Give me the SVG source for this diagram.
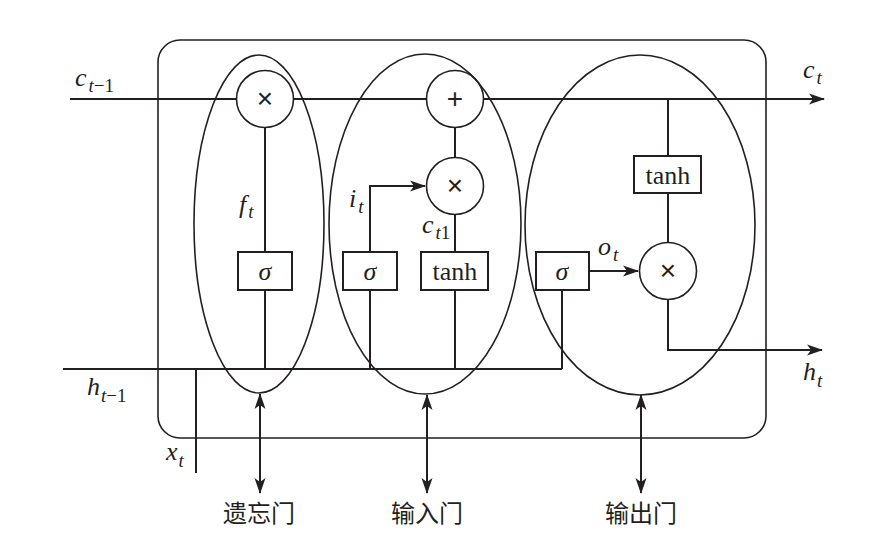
<svg xmlns="http://www.w3.org/2000/svg" width="883" height="546" viewBox="0 0 883 546">
<defs>
<marker id="ah" markerUnits="userSpaceOnUse" markerWidth="16" markerHeight="12" refX="15" refY="6" orient="auto-start-reverse" viewBox="0 0 16 12">
<path d="M0,0.5 L16,6 L0,11.5 L4,6 Z" fill="#231f20"/>
</marker>
</defs>
<style>
.ln{fill:none;stroke:#231f20;stroke-width:2}
.el{fill:none;stroke:#231f20;stroke-width:1.6}
.bx{fill:#fff;stroke:#231f20;stroke-width:2}
.cc{fill:#fff;stroke:#231f20;stroke-width:1.6}
.m{font-family:"Liberation Serif",serif;font-style:italic;font-size:26px;fill:#231f20}
.s{font-size:19px}
.u{font-style:normal}
.bt{font-family:"Liberation Serif",serif;font-size:26px;fill:#231f20;text-anchor:middle}
.op{font-family:"Liberation Sans",sans-serif;font-size:28px;fill:#231f20;text-anchor:middle}
.cn{font-family:"Liberation Serif","Noto Sans CJK SC",serif;font-size:24px;fill:#231f20;text-anchor:middle}
</style>
<rect id="cell" x="158" y="40" width="608" height="398" rx="22" ry="22" fill="none" stroke="#231f20" stroke-width="1.6"/>
<g id="connectors">
<line class="ln" x1="70" y1="99" x2="824" y2="99" marker-end="url(#ah)"/>
<line class="ln" x1="63" y1="369" x2="562" y2="369"/>
<line class="ln" x1="196" y1="369" x2="196" y2="473"/>
<line class="ln" x1="265" y1="127" x2="265" y2="369"/>
<polyline class="ln" points="370,369 370,186 425,186" marker-end="url(#ah)"/>
<line class="ln" x1="455" y1="127" x2="455" y2="369"/>
<line class="ln" x1="562" y1="290" x2="562" y2="369"/>
<line class="ln" x1="589" y1="271" x2="638" y2="271" marker-end="url(#ah)"/>
<polyline class="ln" points="668,99 668,350 822,350" marker-end="url(#ah)"/>
<line class="ln" x1="260" y1="394" x2="260" y2="493" marker-start="url(#ah)" marker-end="url(#ah)"/>
<line class="ln" x1="427" y1="395" x2="427" y2="493" marker-start="url(#ah)" marker-end="url(#ah)"/>
<line class="ln" x1="641" y1="395" x2="641" y2="493" marker-start="url(#ah)" marker-end="url(#ah)"/>
</g>
<g id="forget-mul"><circle class="cc" cx="265" cy="99" r="28.5"/><text class="op" x="265" y="108">×</text></g>
<g id="add"><circle class="cc" cx="455" cy="99" r="28.5"/><text class="op" x="455" y="108">+</text></g>
<g id="input-mul"><circle class="cc" cx="455" cy="186" r="28.5"/><text class="op" x="455" y="195">×</text></g>
<g id="output-mul"><circle class="cc" cx="668" cy="271" r="28.5"/><text class="op" x="668" y="280">×</text></g>
<g id="forget-sigma"><rect class="bx" x="238" y="252" width="54" height="38"/><text class="bt" x="265" y="280" font-style="italic">σ</text></g>
<g id="input-sigma"><rect class="bx" x="343" y="252" width="54" height="38"/><text class="bt" x="370" y="280" font-style="italic">σ</text></g>
<g id="input-tanh"><rect class="bx" x="421" y="252" width="67" height="38"/><text class="bt" x="455" y="280">tanh</text></g>
<g id="output-sigma"><rect class="bx" x="536" y="252" width="53" height="38"/><text class="bt" x="562" y="280" font-style="italic">σ</text></g>
<g id="output-tanh"><rect class="bx" x="634" y="156" width="67" height="37"/><text class="bt" x="668" y="184">tanh</text></g>
<g id="forget-gate"><ellipse class="el" cx="259" cy="224" rx="65" ry="169"/></g>
<g id="input-gate"><ellipse class="el" cx="425" cy="224" rx="96" ry="170"/></g>
<g id="output-gate"><ellipse class="el" cx="640" cy="225" rx="115" ry="170"/></g>
<g id="labels">
<text class="m" x="75" y="86">c<tspan class="s" dx="2" dy="6">t<tspan class="u">−1</tspan></tspan></text>
<text class="m" x="803" y="78">c<tspan class="s" dx="2" dy="6">t</tspan></text>
<text class="m" x="239" y="213">f<tspan class="s" dx="2" dy="5">t</tspan></text>
<text class="m" x="349" y="207">i<tspan class="s" dx="2" dy="6">t</tspan></text>
<text class="m" x="422" y="233">c<tspan class="s" dx="2" dy="6">t<tspan class="u">1</tspan></tspan></text>
<text class="m" x="598" y="255">o<tspan class="s" dx="2" dy="6">t</tspan></text>
<text class="m" x="87" y="395">h<tspan class="s" dx="1" dy="7">t<tspan class="u">−1</tspan></tspan></text>
<text class="m" x="803" y="380">h<tspan class="s" dx="1" dy="7">t</tspan></text>
<text class="m" x="166" y="460">x<tspan class="s" dx="1" dy="7">t</tspan></text>
<text class="cn" x="259" y="522">遗忘门</text>
<text class="cn" x="427" y="522">输入门</text>
<text class="cn" x="641" y="522">输出门</text>
</g>
</svg>
